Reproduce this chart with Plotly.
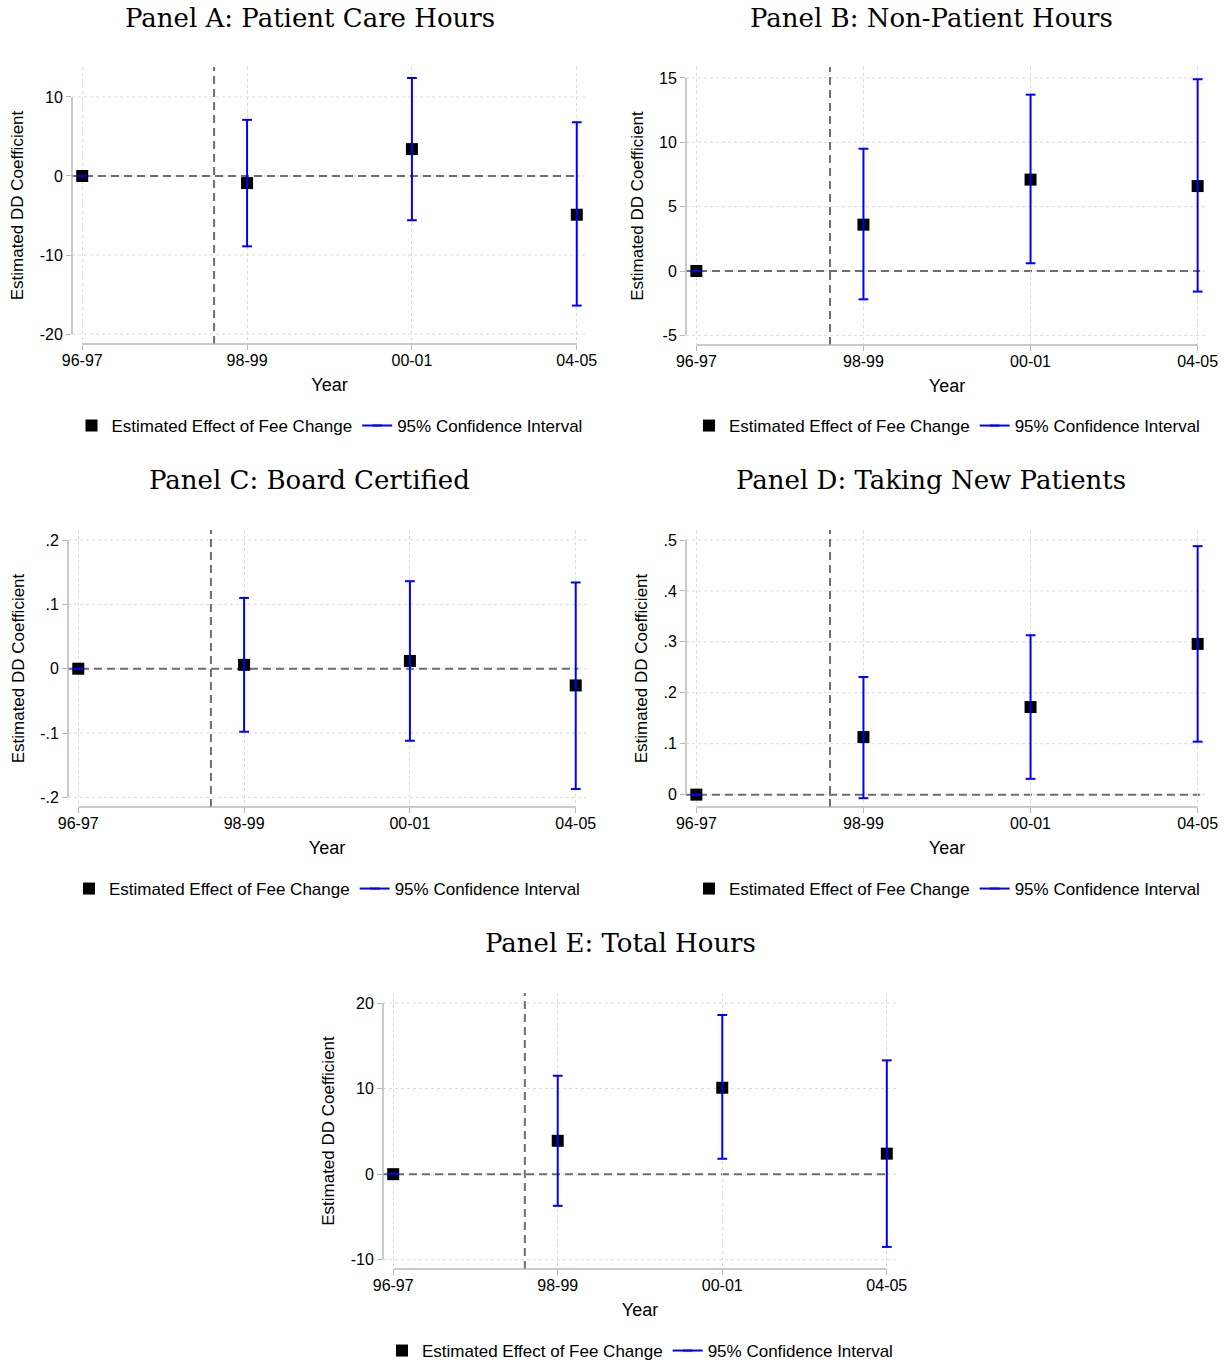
import plotly.graph_objects as go

# ---------------- data ----------------
categories = ["96-97", "98-99", "00-01", "04-05"]

est_a = [0, -0.9, 3.4, -4.9]
lo_a = [0, -8.9, -5.6, -16.4]
hi_a = [0, 7.1, 12.4, 6.8]
yticks_a = [-20, -10, 0, 10]
yticktext_a = ["-20", "-10", "0", "10"]

est_b = [0, 3.6, 7.1, 6.6]
lo_b = [0, -2.2, 0.6, -1.6]
hi_b = [0, 9.5, 13.7, 14.9]
yticks_b = [-5, 0, 5, 10, 15]
yticktext_b = ["-5", "0", "5", "10", "15"]

est_c = [0, 0.006, 0.012, -0.026]
lo_c = [0, -0.098, -0.112, -0.187]
hi_c = [0, 0.110, 0.136, 0.134]
yticks_c = [-0.2, -0.1, 0, 0.1, 0.2]
yticktext_c = ["-.2", "-.1", "0", ".1", ".2"]

est_d = [0, 0.113, 0.172, 0.296]
lo_d = [0, -0.007, 0.031, 0.104]
hi_d = [0, 0.231, 0.313, 0.488]
yticks_d = [0, 0.1, 0.2, 0.3, 0.4, 0.5]
yticktext_d = ["0", ".1", ".2", ".3", ".4", ".5"]

est_e = [0, 3.9, 10.1, 2.4]
lo_e = [0, -3.7, 1.8, -8.5]
hi_e = [0, 11.5, 18.6, 13.3]
yticks_e = [-10, 0, 10, 20]
yticktext_e = ["-10", "0", "10", "20"]

titles = ["Panel A: Patient Care Hours", "Panel B: Non-Patient Hours",
          "Panel C: Board Certified", "Panel D: Taking New Patients",
          "Panel E: Total Hours"]
point_name = "Estimated Effect of Fee Change"
ci_name = "95% Confidence Interval"
x_title = "Year"
y_title = "Estimated DD Coefficient"
reform_position = 0.8  # between 96-97 and 98-99

# ---------------- layout (pixels) ----------------
W, H = 1228, 1362
panels = [
    dict(est=est_a, lo=lo_a, hi=hi_a, yt=yticks_a, ytt=yticktext_a, yr=[-21.26, 13.79],
         xd=(72, 587), yd=(67, 344), tt=(310, 18), ly=426),
    dict(est=est_b, lo=lo_b, hi=hi_b, yt=yticks_b, ytt=yticktext_b, yr=[-5.75, 15.85],
         xd=(686, 1208), yd=(67, 345), tt=(931, 18), ly=426),
    dict(est=est_c, lo=lo_c, hi=hi_c, yt=yticks_c, ytt=yticktext_c, yr=[-0.215, 0.2156],
         xd=(68, 586), yd=(530, 807), tt=(309, 480), ly=889),
    dict(est=est_d, lo=lo_d, hi=hi_d, yt=yticks_d, ytt=yticktext_d, yr=[-0.0243, 0.5197],
         xd=(686, 1208), yd=(530, 807), tt=(931, 480), ly=889),
    dict(est=est_e, lo=lo_e, hi=hi_e, yt=yticks_e, ytt=yticktext_e, yr=[-11.08, 21.17],
         xd=(383, 897), yd=(993, 1269), tt=(620, 943), ly=1351),
]

SANS = "Liberation Sans, Arial, sans-serif"
SERIF = "DejaVu Serif, serif"
GRID = "#dadada"
AXIS = "#b8b8b8"
DASH = "#6e6e6e"
XR = [-0.062, 3.062]

fig = go.Figure()
layout = dict(width=W, height=H, margin=dict(l=0, r=0, t=0, b=0, autoexpand=False),
              plot_bgcolor="white", paper_bgcolor="white",
              font=dict(family=SANS, color="black", size=16),
              shapes=[], annotations=[])

for i, p in enumerate(panels, start=1):
    sfx = "" if i == 1 else str(i)
    xa, ya = "x" + sfx, "y" + sfx
    lg = "legend" + sfx

    fig.add_trace(go.Scatter(
        x=categories, y=p["est"], mode="markers",
        marker=dict(symbol="square", size=12, color="black", line=dict(width=0)),
        name=point_name, xaxis=xa, yaxis=ya, legend=lg, cliponaxis=False))

    cx, cy = [], []
    for c, l, h in zip(categories, p["lo"], p["hi"]):
        cx += [c, c, None]
        cy += [l, h, None]
    fig.add_trace(go.Scatter(
        x=cx, y=cy, mode="lines+markers",
        line=dict(color="#0000ff", width=2),
        marker=dict(symbol="line-ew", size=7, color="#0000ff",
                    line=dict(width=2, color="#0000ff")),
        name=ci_name, xaxis=xa, yaxis=ya, legend=lg, cliponaxis=False))

    x0, x1 = p["xd"]
    y0, y1 = p["yd"]
    layout["xaxis" + sfx] = dict(
        domain=[x0 / W, x1 / W], anchor=ya, type="category",
        categoryorder="array", categoryarray=categories, automargin=False,
        range=XR, showgrid=True, gridcolor=GRID, griddash="dot", gridwidth=1,
        zeroline=False, showline=False, ticks="outside", ticklen=5,
        tickcolor=AXIS, tickwidth=1, tickfont=dict(size=16), ticklabelstandoff=-3,
        title=dict(text=x_title, font=dict(size=18), standoff=10))
    layout["yaxis" + sfx] = dict(
        domain=[1 - y1 / H, 1 - y0 / H], anchor=xa, range=p["yr"], automargin=False,
        tickvals=p["yt"], ticktext=p["ytt"],
        showgrid=False, zeroline=False, showline=False, ticks="outside", ticklen=5,
        tickcolor=AXIS, tickwidth=1, tickfont=dict(size=16),
        title=dict(text=y_title, font=dict(size=17), standoff=11))

    # horizontal dotted grid lines (drawn as shapes so the zero reference sits above)
    for v in p["yt"]:
        layout["shapes"].append(dict(type="line", xref=xa + " domain", yref=ya,
                                     x0=0, x1=1, y0=v, y1=v, layer="below",
                                     line=dict(color=GRID, width=1, dash="dot")))
    # reference lines
    layout["shapes"].append(dict(type="line", xref=xa + " domain", yref=ya,
                                 x0=0, x1=0.985, y0=0, y1=0, layer="below",
                                 line=dict(color=DASH, width=2, dash="8px,5px")))
    layout["shapes"].append(dict(type="line", xref=xa, yref=ya + " domain",
                                 x0=reform_position, x1=reform_position, y0=0, y1=1,
                                 layer="below",
                                 line=dict(color=DASH, width=2, dash="8px,5px")))
    # axis lines spanning tick range (Stata style)
    layout["shapes"].append(dict(type="line", xref=xa + " domain", yref=ya,
                                 x0=0, x1=0, y0=min(p["yt"]), y1=max(p["yt"]),
                                 line=dict(color=AXIS, width=1.5)))
    layout["shapes"].append(dict(type="line", xref=xa, yref=ya + " domain",
                                 x0=0, x1=len(categories) - 1, y0=0, y1=0,
                                 line=dict(color=AXIS, width=1.5)))

    tx, ty = p["tt"]
    layout["annotations"].append(dict(text=titles[i - 1], xref="paper", yref="paper",
                                      x=tx / W, y=1 - ty / H, xanchor="center",
                                      yanchor="middle", showarrow=False,
                                      font=dict(family=SERIF, size=26, color="black")))

    layout[lg] = dict(orientation="h", x=(x0 + x1) / 2 / W, xanchor="center",
                      y=1 - p["ly"] / H, yanchor="middle",
                      font=dict(size=17, family=SANS), bgcolor="rgba(0,0,0,0)",
                      itemwidth=30, tracegroupgap=0)

fig.update_layout(**layout)

fig.write_html("out.html", config={"displayModeBar": False},
               post_script="document.body.style.margin='0';document.body.style.overflow='hidden';")
